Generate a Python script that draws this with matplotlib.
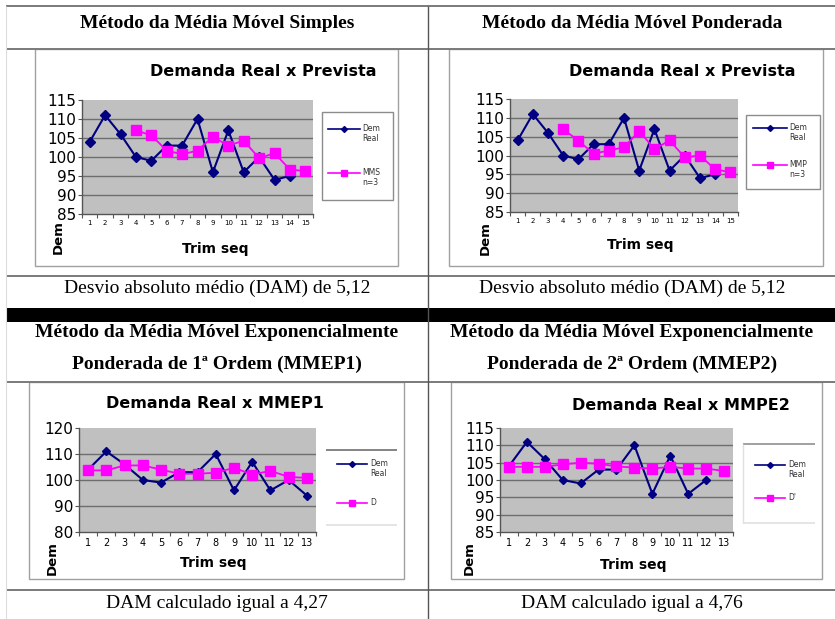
import matplotlib
matplotlib.use("Agg")
import matplotlib.pyplot as plt
from matplotlib.lines import Line2D
from matplotlib.patches import Rectangle

W, H = 835, 619
DPI = 100

# ---------------- data ----------------
trim_15 = [1, 2, 3, 4, 5, 6, 7, 8, 9, 10, 11, 12, 13, 14, 15]
trim_13 = [1, 2, 3, 4, 5, 6, 7, 8, 9, 10, 11, 12, 13]

dem_trim = [1, 2, 3, 4, 5, 6, 7, 8, 9, 10, 11, 12, 13, 14]
dem_real = [104, 111, 106, 100, 99, 103, 103, 110, 96, 107, 96, 100, 94, 95]

prev_trim = [4, 5, 6, 7, 8, 9, 10, 11, 12, 13, 14, 15]
mms_n3 = [107.0, 105.7, 101.7, 100.7, 101.7, 105.3, 103.0, 104.3, 99.7, 101.0, 96.7, 96.3]
mmp_n3 = [107.0, 103.9, 100.5, 101.3, 102.2, 106.5, 101.7, 104.0, 99.5, 100.0, 96.3, 95.6]

mmep1_d = [103.7, 103.7, 105.6, 105.6, 104.0, 102.4, 102.4, 102.8, 104.7, 102.1, 103.5, 101.2, 100.8]
mmpe2_d = [103.8, 103.8, 103.8, 104.5, 105.0, 104.7, 103.9, 103.6, 103.3, 103.8, 103.3, 103.3, 102.6]

headers = [
    ["Método da Média Móvel Simples"],
    ["Método da Média Móvel Ponderada"],
    ["Método da Média Móvel Exponencialmente", "Ponderada de 1ª Ordem (MMEP1)"],
    ["Método da Média Móvel Exponencialmente", "Ponderada de 2ª Ordem (MMEP2)"],
]
footers = [
    "Desvio absoluto médio (DAM) de 5,12",
    "Desvio absoluto médio (DAM) de 5,12",
    "DAM calculado igual a 4,27",
    "DAM calculado igual a 4,76",
]

NAVY = "#000080"
MAGENTA = "#ff00ff"
PLOT_BG = "#c0c0c0"
GRID = "#6e6e6e"
SANS = "DejaVu Sans"
SERIF = "Liberation Serif"


def fx(x):
    return x / W


def fy(y):
    return 1 - y / H


def rect(x0, y0, x1, y1):
    return [fx(x0), fy(y1), (x1 - x0) / W, (y1 - y0) / H]


fig = plt.figure(figsize=(W / DPI, H / DPI), dpi=DPI)
fig.patch.set_facecolor("white")


def hline(y, x0, x1, color="#7a7a7a", lw=1.4, z=2):
    fig.add_artist(Line2D([fx(x0), fx(x1)], [fy(y), fy(y)], transform=fig.transFigure,
                          color=color, lw=lw, solid_capstyle="butt", zorder=z))


def vline(x, y0, y1, color="#7a7a7a", lw=1.2, z=2):
    fig.add_artist(Line2D([fx(x), fx(x)], [fy(y0), fy(y1)], transform=fig.transFigure,
                          color=color, lw=lw, solid_capstyle="butt", zorder=z))


def frame_box(x0, y0, x1, y1, edge, z=-1):
    fig.add_artist(Rectangle((fx(x0), fy(y1)), (x1 - x0) / W, (y1 - y0) / H,
                             transform=fig.transFigure, facecolor="white",
                             edgecolor=edge, lw=1.0, zorder=z))


# ---------------- table frame ----------------
hline(6, 6, 835)
hline(49, 6, 835)
hline(276, 6, 835)
fig.add_artist(Rectangle((fx(6), fy(322)), (835 - 6) / W, 14 / H, transform=fig.transFigure,
                         facecolor="black", edgecolor="none"))
hline(382, 6, 835)
hline(590, 6, 835)
vline(428, 6, 619, color="#555555", lw=1.0)
vline(6, 6, 619, color="#dddddd", lw=0.8)

# header and footer texts
col_cx = [217, 632]
fig.text(fx(col_cx[0]), fy(23), headers[0][0], family=SERIF, weight="bold", size=14,
         ha="center", va="center")
fig.text(fx(col_cx[1]), fy(23), headers[1][0], family=SERIF, weight="bold", size=14,
         ha="center", va="center")
for i, cx in enumerate(col_cx):
    fig.text(fx(cx), fy(333), headers[2 + i][0], family=SERIF, weight="bold", size=14,
             ha="center", va="center")
    fig.text(fx(cx), fy(364), headers[2 + i][1], family=SERIF, weight="bold", size=14,
             ha="center", va="center")
    fig.text(fx(cx), fy(288), footers[i], family=SERIF, size=14, ha="center", va="center")
    fig.text(fx(cx), fy(603), footers[2 + i], family=SERIF, size=14, ha="center", va="center")


# ---------------- charts ----------------
def chart(box, plot, title, title_xy, ylim, yticks, grid_vals, cats, series,
          dem_xy, trim_xy, xt_size, legend):
    frame_box(*box, edge="#a0a0a0", z=-2)
    ax = fig.add_axes(rect(*plot))
    ax.set_zorder(1)
    ax.set_facecolor(PLOT_BG)
    ax.set_xlim(cats[0] - 0.5, cats[-1] + 0.5)
    ax.set_ylim(*ylim)
    for g in grid_vals:
        ax.axhline(g, color=GRID, lw=1.0, zorder=1)
    for xs, ys, color, marker, ms, lw in series:
        ax.plot(xs, ys, color=color, marker=marker, ms=ms, lw=lw,
                markeredgecolor=color, zorder=3, clip_on=False)
    for s in ["top", "right"]:
        ax.spines[s].set_visible(False)
    for s in ["left", "bottom"]:
        ax.spines[s].set_color("#555555")
        ax.spines[s].set_linewidth(1.0)
    ax.set_yticks(yticks)
    ax.set_yticklabels([str(v) for v in yticks], family=SANS, size=11)
    ax.tick_params(axis="y", direction="out", length=3, width=0.8, pad=1, color="#555555")
    ax.set_xticks([c - 0.5 for c in cats] + [cats[-1] + 0.5])
    ax.set_xticklabels([])
    ax.set_xticks(cats, minor=True)
    ax.set_xticklabels([str(c) for c in cats], minor=True, family=SANS, size=xt_size)
    ax.tick_params(axis="x", which="major", direction="out", length=3, width=0.8,
                   color="#555555")
    ax.tick_params(axis="x", which="minor", length=0, pad=4.5)

    fig.text(fx(title_xy[0]), fy(title_xy[1]), title, family=SANS, weight="bold",
             size=11.5, ha="center", va="center")
    fig.text(fx(dem_xy[0]), fy(dem_xy[1]), "Dem", family=SANS, weight="bold", size=9.5,
             rotation=90, ha="center", va="center")
    fig.text(fx(trim_xy[0]), fy(trim_xy[1]), "Trim seq", family=SANS, weight="bold",
             size=10, ha="center", va="center")

    # legend
    frame = legend.get("frame")
    if frame is not None:
        frame_box(*frame, edge="#8c8c8c", z=-1)
    for seg in legend.get("rules", []):
        hline(seg[0], seg[1], seg[2], color=seg[3], lw=1.2)
    lx0, lx1, tx = legend["x"]
    for (y, label, color, marker, ms) in legend["items"]:
        fig.add_artist(Line2D([fx(lx0), fx((lx0 + lx1) / 2), fx(lx1)], [fy(y)] * 3,
                              transform=fig.transFigure, color=color, lw=1.2,
                              marker=marker, ms=ms, markevery=[1], markeredgecolor=color))
        fig.text(fx(tx), fy(y - 5), label, family=SANS, size=5.5, color="#333333",
                 ha="left", va="top", linespacing=1.1)
    return ax


# A: simple moving average
chart(box=(35, 49, 398, 266), plot=(82, 100, 313, 214),
      title="Demanda Real x Prevista", title_xy=(263, 72),
      ylim=(85, 115), yticks=[85, 90, 95, 100, 105, 110, 115],
      grid_vals=[90, 95, 100, 105, 110], cats=trim_15,
      series=[(dem_trim, dem_real, NAVY, "D", 5, 1.5),
              (prev_trim, mms_n3, MAGENTA, "s", 7, 1.3)],
      dem_xy=(58, 237), trim_xy=(215, 249), xt_size=5,
      legend={"frame": (322, 112, 393, 200), "x": (328, 360, 362),
              "items": [(129, "Dem\nReal", NAVY, "D", 3),
                        (173, "MMS\nn=3", MAGENTA, "s", 4.5)]})

# B: weighted moving average
chart(box=(449, 49, 823, 266), plot=(510, 99, 738, 212),
      title="Demanda Real x Prevista", title_xy=(682, 72),
      ylim=(85, 115), yticks=[85, 90, 95, 100, 105, 110, 115],
      grid_vals=[90, 95, 100, 105, 110], cats=trim_15,
      series=[(dem_trim, dem_real, NAVY, "D", 5, 1.5),
              (prev_trim, mmp_n3, MAGENTA, "s", 7, 1.3)],
      dem_xy=(485, 238), trim_xy=(640, 245), xt_size=5,
      legend={"frame": (746, 115, 820, 189), "x": (753, 787, 789),
              "items": [(128, "Dem\nReal", NAVY, "D", 3),
                        (165, "MMP\nn=3", MAGENTA, "s", 4.5)]})

# C: first-order exponential smoothing
chart(box=(29, 382, 404, 579), plot=(79, 428, 316, 532),
      title="Demanda Real x MMEP1", title_xy=(215, 403),
      ylim=(80, 120), yticks=[80, 90, 100, 110, 120],
      grid_vals=[90, 100, 110], cats=trim_13,
      series=[(trim_13, dem_real[:13], NAVY, "D", 4.5, 1.5),
              (trim_13, mmep1_d, MAGENTA, "s", 6.5, 1.3)],
      dem_xy=(52, 558), trim_xy=(213, 563), xt_size=7,
      legend={"rules": [(450, 326, 397, "#707070"), (525, 326, 397, "#e0e0e0")],
              "x": (337, 367, 370),
              "items": [(464, "Dem\nReal", NAVY, "D", 3),
                        (503, "D", MAGENTA, "s", 4.5)]})

# D: second-order exponential smoothing
chart(box=(451, 382, 822, 579), plot=(500, 428, 733, 532),
      title="Demanda Real x MMPE2", title_xy=(681, 405),
      ylim=(85, 115), yticks=[85, 90, 95, 100, 105, 110, 115],
      grid_vals=[90, 95, 100, 105, 110], cats=trim_13,
      series=[(trim_13[:12], dem_real[:12], NAVY, "D", 4.5, 1.5),
              (trim_13, mmpe2_d, MAGENTA, "s", 6.5, 1.3)],
      dem_xy=(469, 558), trim_xy=(633, 565), xt_size=7,
      legend={"rules": [(444, 743, 815, "#909090"), (523, 743, 815, "#e0e0e0")],
              "x": (755, 785, 788),
              "items": [(465, "Dem\nReal", NAVY, "D", 3),
                        (498, "D'", MAGENTA, "s", 4.5)]})
vline(743, 444, 523, color="#e0e0e0", lw=1.0)

fig.savefig("out.png", dpi=DPI, facecolor="white")
